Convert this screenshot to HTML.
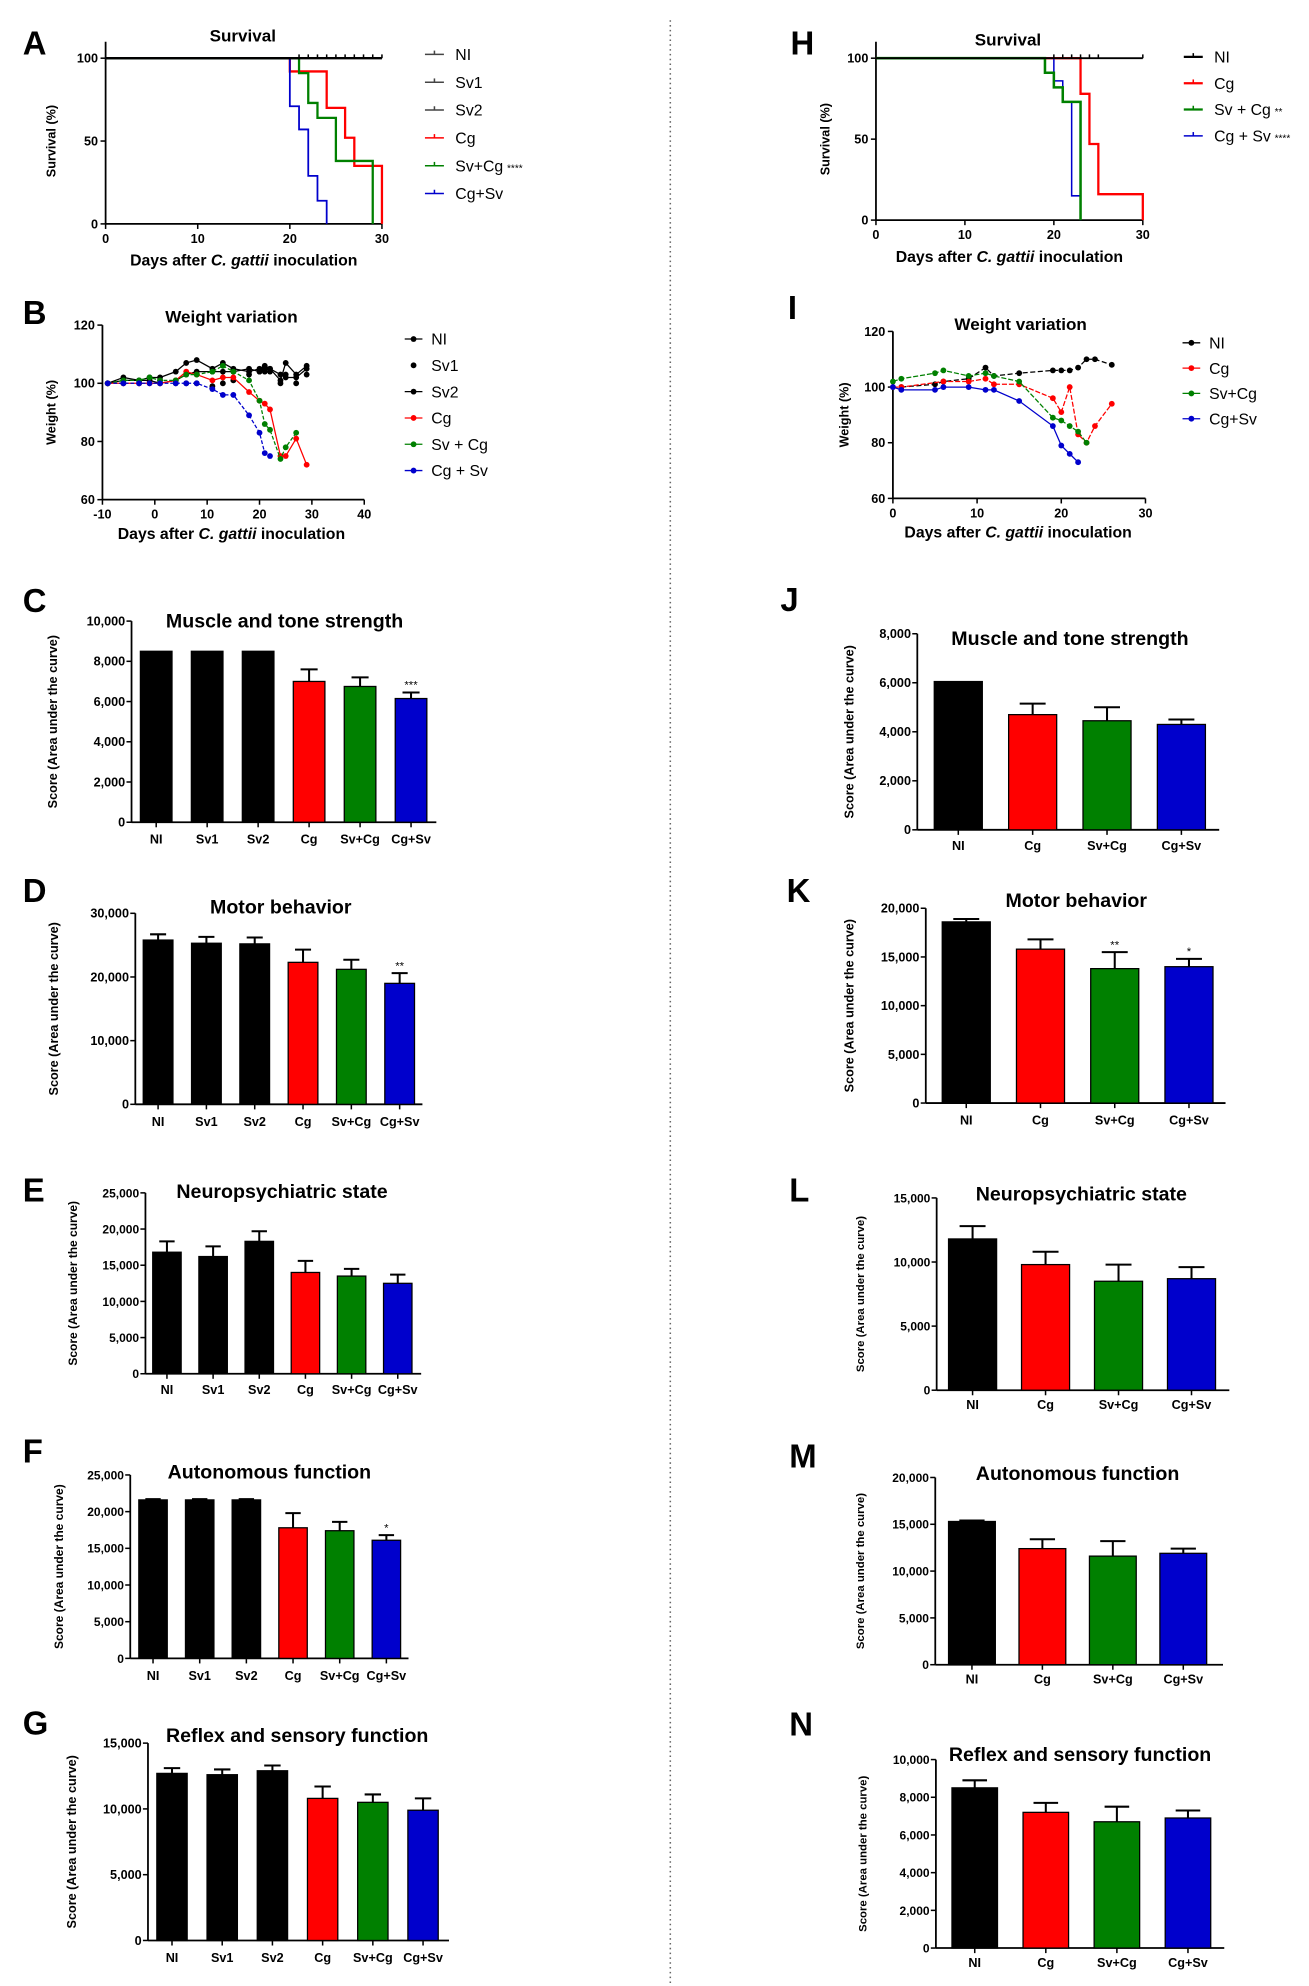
<!DOCTYPE html>
<html><head><meta charset="utf-8"><title>Figure</title>
<style>
html,body{margin:0;padding:0;background:#fff;}
svg{display:block;font-family:"Liberation Sans",Arial,sans-serif;}
</style></head>
<body>
<svg id="fig" width="1309" height="1986" viewBox="0 0 1035 1570" preserveAspectRatio="none" xmlns="http://www.w3.org/2000/svg">
<rect x="0" y="0" width="1035" height="1570" fill="#fff"/>
<line x1="530" y1="16" x2="530" y2="1570" stroke="#666" stroke-width="1.2" stroke-dasharray="1.2,2.6"/>
</svg>
<script>
// ---------- DATA ----------
const catsLeft = ['NI','Sv1','Sv2','Cg','Sv+Cg','Cg+Sv'];
const catsRight = ['NI','Cg','Sv+Cg','Cg+Sv'];
const colorsLeft = ['#000','#000','#000','#ff0000','#008000','#0000cc'];
const colorsRight = ['#000','#ff0000','#008000','#0000cc'];

// Survival A (step curves: day where value starts, survival %)
const aNIdays = [0,30];           const aNIsurv = [100,100];
const aNIcensor = [21,22,23,24,25,26,27,28,29,30];
const aCgDays = [0,20,24,26,27,30]; const aCgSurv = [100,92,70,52,35,0];
const aSvCgDays = [0,21,22,23,25,29]; const aSvCgSurv = [100,91,73,64,38,0];
const aCgSvDays = [0,20,21,22,23,24]; const aCgSvSurv = [100,71,57,29,14,0];
const aXTicks = [0,10,20,30]; const aYTicks = [0,50,100];

// Survival H
const hNIdays = [0,30]; const hNIsurv = [100,100];
const hNIcensor = [20,21,22,23,24,25,30];
const hCgDays = [0,23,24,25,30]; const hCgSurv = [100,78,47,16,0];
const hSvCgDays = [0,19,20,21,23]; const hSvCgSurv = [100,91,82,73,0];
const hCgSvDays = [0,20,21,22,23]; const hCgSvSurv = [100,86,73,15,0];

// Weight B
const bDays = [-9,-6,-3,-1,1,4,6,8,11,13,15,18,20,21,22,24,25,27,29];
const bNI   = [100,102,101,102,102,104,107,108,105,107,105,104,105,106,105,101,107,103,106];
const bSv1  = [100,100,100,101,101,100,100,100,99,100,101,103,104,104,104,100,103,100,103];
const bSv2  = [100,101,101,101,100,101,103,104,104,104,104,105,104,105,105,103,102,102,105];
const bCg   = [100,100,100,100,100,101,104,103,101,102,102,97,94,93,91,75,75,81,72];
const bSvCgDays = [-9,-6,-3,-1,1,4,6,8,11,13,15,18,20,21,22,24,25,27];
const bSvCg = [100,101,101,102,101,101,103,103,104,106,104,101,94,86,84,74,78,83];
const bCgSvDays = [-9,-6,-3,-1,1,4,6,8,11,13,15,18,20,21,22];
const bCgSv = [100,100,100,100,100,100,100,100,98,96,96,89,83,76,75];
const bXTicks = [-10,0,10,20,30,40]; const bYTicks = [60,80,100,120];

// Weight I
const iNIdays = [1,5,6,9,11,12,15,19,20,21,22,23,24,26];
const iNI     = [100,101,102,103,107,104,105,106,106,106,107,110,110,108];
const iCgDays = [0,1,6,9,11,12,15,19,20,21,22,23,24,26];
const iCg     = [100,100,102,102,103,101,101,96,91,100,83,80,86,94];
const iSvCgDays = [0,1,5,6,9,11,12,15,19,20,21,22,23];
const iSvCg   = [102,103,105,106,104,105,104,102,89,88,86,84,80];
const iCgSvDays = [0,1,5,6,9,11,12,15,19,20,21,22];
const iCgSv   = [100,99,99,100,100,99,99,95,86,79,76,73];
const iXTicks = [0,10,20,30];

// Bar panels
const cValues = [8500,8500,8500,7000,6750,6150]; const cErrors = [0,0,0,600,450,300]; const cStars = ['','','','','','***'];
const dValues = [25800,25300,25200,22300,21200,19000]; const dErrors = [900,1000,1000,2000,1500,1600]; const dStars = ['','','','','','**'];
const eValues = [16800,16200,18300,14000,13500,12500]; const eErrors = [1500,1400,1400,1600,1000,1200]; const eStars = ['','','','','',''];
const fValues = [21600,21600,21600,17800,17400,16100]; const fErrors = [100,100,100,2000,1200,700]; const fStars = ['','','','','','*'];
const gValues = [12700,12600,12900,10800,10500,9900]; const gErrors = [400,400,400,900,600,900]; const gStars = ['','','','','',''];
const jValues = [6050,4700,4450,4300]; const jErrors = [0,450,550,200]; const jStars = ['','','',''];
const kValues = [18600,15800,13800,14000]; const kErrors = [300,1000,1700,800]; const kStars = ['','','**','*'];
const lValues = [11800,9800,8500,8700]; const lErrors = [1000,1000,1300,900]; const lStars = ['','','',''];
const mValues = [15300,12400,11600,11900]; const mErrors = [100,1000,1600,500]; const mStars = ['','','',''];
const nValues = [8500,7200,6700,6900]; const nErrors = [400,500,800,400]; const nStars = ['','','',''];
const cTicks = [0,2000,4000,6000,8000,10000];
const dTicks = [0,10000,20000,30000];
const eTicks = [0,5000,10000,15000,20000,25000];
const gTicks = [0,5000,10000,15000];
const jTicks = [0,2000,4000,6000,8000];
const kTicks = [0,5000,10000,15000,20000];
const lTicks = [0,5000,10000,15000];
const nTicks = [0,2000,4000,6000,8000,10000];

// ---------- HELPERS ----------
const NS = 'http://www.w3.org/2000/svg';
const svg = document.getElementById('fig');
function mk(tag, attrs, parent){
  const e = document.createElementNS(NS, tag);
  for (const k in attrs) e.setAttribute(k, attrs[k]);
  (parent || svg).appendChild(e);
  return e;
}
function txt(parent, x, y, s, size, weight, anchor, extra){
  const t = mk('text', Object.assign({x:x, y:y, 'font-size':size, 'font-weight':weight||'normal', 'text-anchor':anchor||'start', fill:'#000'}, extra||{}), parent);
  t.textContent = s;
  return t;
}
function fmt(v){ return v.toLocaleString('en-US'); }
function letter(ch, x, y){
  const t = txt(svg, x, y, ch, 26, 'bold', 'start');
  
  
}

// ---------- BAR CHART ----------
function barChart(p){
  const g = mk('g', {});
  
  
  const ys = v => p.y0 - v / p.max * (p.y0 - p.yTop);
  const xc = i => p.c0 + i * p.pitch;
  const ya = mk('line', {x1:p.ax, y1:p.yTop, x2:p.ax, y2:p.y0, stroke:'#000', 'stroke-width':1.4}, g);
  
  
  const xa = mk('line', {x1:p.ax, y1:p.y0, x2:p.axEnd, y2:p.y0, stroke:'#000', 'stroke-width':1.4}, g);
  
  
  p.ticks.forEach(t => {
    mk('line', {x1:p.ax-4, y1:ys(t), x2:p.ax, y2:ys(t), stroke:'#000', 'stroke-width':1.2}, g);
    const tl = txt(g, p.ax-5, ys(t)+3.5, fmt(t), p.tickSize||10, 'bold', 'end');
    
    
  });
  p.values.forEach((v, i) => {
    const cx = xc(i);
    const r = mk('rect', {x:cx-p.w/2, y:ys(v), width:p.w, height:p.y0-ys(v), fill:p.colors[i], stroke:'#000', 'stroke-width':1}, g);
    
    
    if (p.errors[i] > 0){
      const e = mk('path', {d:'M'+cx+' '+ys(v)+'V'+ys(v+p.errors[i])+'M'+(cx-p.w*0.27)+' '+ys(v+p.errors[i])+'H'+(cx+p.w*0.27), stroke:'#000', 'stroke-width':1.6, fill:'none'}, g);
      
      
    }
    if (p.stars[i]){
      const s = txt(g, cx, ys(v+p.errors[i])-3, p.stars[i], 9, 'normal', 'middle');
      
      
    }
    mk('line', {x1:cx, y1:p.y0, x2:cx, y2:p.y0+4, stroke:'#000', 'stroke-width':1.2}, g);
    const cl = txt(g, cx, p.labY, p.cats[i], 10, 'bold', 'middle');
    
    
  });
  const ti = txt(g, p.tx, p.ty, p.title, p.titleSize||15.5, 'bold', 'middle');
  
  
  const cy = (p.yTop + p.y0) / 2;
  const yt = txt(g, 0, 0, 'Score (Area under the curve)', p.ytSize||10, 'bold', 'middle', {transform:'translate('+p.ytx+','+cy+') rotate(-90)'});
  
  
}

// ---------- SURVIVAL ----------
function survival(p){
  const g = mk('g', {});
  
  
  const xs = d => p.x0 + d / 30 * (p.x1 - p.x0);
  const ys = s => p.y0 - s / 100 * (p.y0 - p.y100);
  const ya = mk('line', {x1:p.x0, y1:p.y100-13, x2:p.x0, y2:p.y0, stroke:'#000', 'stroke-width':1.4}, g);
  
  
  const xa = mk('line', {x1:p.x0, y1:p.y0, x2:p.x1, y2:p.y0, stroke:'#000', 'stroke-width':1.4}, g);
  
  
  aXTicks.forEach(t => {
    mk('line', {x1:xs(t), y1:p.y0, x2:xs(t), y2:p.y0+4, stroke:'#000', 'stroke-width':1.2}, g);
    const l = txt(g, xs(t), p.y0+15, String(t), 10, 'bold', 'middle');
    
    
  });
  aYTicks.forEach(t => {
    mk('line', {x1:p.x0-4, y1:ys(t), x2:p.x0, y2:ys(t), stroke:'#000', 'stroke-width':1.2}, g);
    const l = txt(g, p.x0-6, ys(t)+3.5, String(t), 10, 'bold', 'end');
    
    
  });
  p.series.forEach(s => {
    let d = 'M' + xs(s.days[0]) + ' ' + ys(s.surv[0]);
    for (let i = 1; i < s.days.length; i++) d += 'H' + xs(s.days[i]) + 'V' + ys(s.surv[i]);
    const path = mk('path', {d:d, stroke:s.color, 'stroke-width':s.w||1.6, fill:'none'}, g);
    
    
  });
  p.censor.forEach(c => {
    mk('line', {x1:xs(c), y1:ys(100)-3, x2:xs(c), y2:ys(100), stroke:'#000', 'stroke-width':1.2}, g);
  });
  const ti = txt(g, p.tx, p.ty, 'Survival', 13.5, 'bold', 'middle');
  
  
  const xt = mk('text', {x:(p.x0+p.x1)/2, y:p.y0+33, 'font-size':12.5, 'font-weight':'bold', 'text-anchor':'middle'}, g);
  xt.innerHTML = 'Days after <tspan font-style="italic">C. gattii</tspan> inoculation';
  
  
  const yt = txt(g, 0, 0, 'Survival (%)', 10, 'bold', 'middle', {transform:'translate('+p.ytx+','+((p.y0+p.y100)/2)+') rotate(-90)'});
  
  
  p.legend.forEach((L, i) => {
    const y = p.ly + i * p.lstep;
    const lg = mk('g', {}, g);
    
    
    mk('line', {x1:p.lx, y1:y, x2:p.lx+15, y2:y, stroke:L.color, 'stroke-width':L.w||1.2}, lg);
    mk('line', {x1:p.lx+7.5, y1:y-3, x2:p.lx+7.5, y2:y, stroke:L.color, 'stroke-width':1.2}, lg);
    const t = txt(lg, p.lx+24, y+4.5, L.label, 12.5, 'normal', 'start');
    if (L.stars){ const ts = mk('tspan', {'font-size':8, dx:3}, t); ts.textContent = L.stars; }
  });
}

// ---------- WEIGHT ----------
function weight(p){
  const g = mk('g', {});
  
  
  const xs = d => p.x0 + (d - p.dmin) / (p.dmax - p.dmin) * (p.x1 - p.x0);
  const ys = w => p.y60 - (w - 60) / 60 * (p.y60 - p.y120);
  const ya = mk('line', {x1:p.x0, y1:p.y120, x2:p.x0, y2:p.y60, stroke:'#000', 'stroke-width':1.4}, g);
  
  
  const xa = mk('line', {x1:p.x0, y1:p.y60, x2:p.x1, y2:p.y60, stroke:'#000', 'stroke-width':1.4}, g);
  
  
  p.xticks.forEach(t => {
    mk('line', {x1:xs(t), y1:p.y60, x2:xs(t), y2:p.y60+4, stroke:'#000', 'stroke-width':1.2}, g);
    const l = txt(g, xs(t), p.y60+15, String(t), 10, 'bold', 'middle');
    
    
  });
  bYTicks.forEach(t => {
    mk('line', {x1:p.x0-4, y1:ys(t), x2:p.x0, y2:ys(t), stroke:'#000', 'stroke-width':1.2}, g);
    const l = txt(g, p.x0-6, ys(t)+3.5, String(t), 10, 'bold', 'end');
    
    
  });
  p.series.forEach(s => {
    const sg = mk('g', {}, g);
    
    
    if (s.line){
      const pts = s.days.map((d, i) => xs(d) + ',' + ys(s.vals[i])).join(' ');
      mk('polyline', {points:pts, stroke:s.color, 'stroke-width':1, fill:'none', 'stroke-dasharray':s.dash||'none'}, sg);
    }
    s.days.forEach((d, i) => {
      const c = mk('circle', {cx:xs(d), cy:ys(s.vals[i]), r:2.3, fill:s.color}, sg);
      
      
    });
  });
  const ti = txt(g, p.tx, p.ty, 'Weight variation', 13.5, 'bold', 'middle');
  
  
  const xt = mk('text', {x:p.xtx, y:p.y60+31, 'font-size':12.5, 'font-weight':'bold', 'text-anchor':'middle'}, g);
  xt.innerHTML = 'Days after <tspan font-style="italic">C. gattii</tspan> inoculation';
  
  
  const yt = txt(g, 0, 0, 'Weight (%)', 10, 'bold', 'middle', {transform:'translate('+p.ytx+','+((p.y60+p.y120)/2)+') rotate(-90)'});
  
  
  p.legend.forEach((L, i) => {
    const y = p.ly + i * p.lstep;
    const lg = mk('g', {}, g);
    
    
    if (!L.noline) mk('line', {x1:p.lx-7, y1:y, x2:p.lx+7, y2:y, stroke:L.color, 'stroke-width':1}, lg);
    mk('circle', {cx:p.lx, cy:y, r:2.3, fill:L.color}, lg);
    txt(lg, p.lx+14, y+4.5, L.label, 12.5, 'normal', 'start');
  });
}

// ---------- BUILD ----------
letter('A', 18, 43);
survival({name:'survival-chart-a', x0:83.5, x1:302, y0:177, y100:46, tx:192, ty:33, ytx:44,
  series:[{key:'cg', days:aCgDays, surv:aCgSurv, color:'#ff0000', w:1.8},
          {key:'sv-cg', days:aSvCgDays, surv:aSvCgSurv, color:'#008000', w:1.8},
          {key:'cg-sv', days:aCgSvDays, surv:aCgSvSurv, color:'#0000cc', w:1.4},
          {key:'ni', days:aNIdays, surv:aNIsurv, color:'#000', w:1.8}],
  censor:aNIcensor, lx:336, ly:43, lstep:22,
  legend:[{label:'NI',color:'#444'},{label:'Sv1',color:'#444'},{label:'Sv2',color:'#444'},{label:'Cg',color:'#ff0000'},{label:'Sv+Cg',color:'#008000',stars:'****'},{label:'Cg+Sv',color:'#0000cc'}]});

letter('B', 18, 256);
weight({name:'weight-chart-b', x0:81, x1:288, dmin:-10, dmax:40, y60:395, y120:257, tx:183, ty:255, xtx:183, ytx:44, xticks:bXTicks,
  series:[{key:'ni', days:bDays, vals:bNI, color:'#000', line:true},
          {key:'sv1', days:bDays, vals:bSv1, color:'#000', line:false},
          {key:'sv2', days:bDays, vals:bSv2, color:'#000', line:true},
          {key:'cg', days:bDays, vals:bCg, color:'#ff0000', line:true},
          {key:'sv-cg', days:bSvCgDays, vals:bSvCg, color:'#008000', line:true, dash:'3,1.5'},
          {key:'cg-sv', days:bCgSvDays, vals:bCgSv, color:'#0000cc', line:true, dash:'3,1.5'}],
  lx:327, ly:268, lstep:20.8,
  legend:[{label:'NI',color:'#000'},{label:'Sv1',color:'#000',noline:true},{label:'Sv2',color:'#000'},{label:'Cg',color:'#ff0000'},{label:'Sv + Cg',color:'#008000'},{label:'Cg + Sv',color:'#0000cc'}]});

letter('C', 18, 484);
barChart({name:'bar-chart-c', cats:catsLeft, colors:colorsLeft, values:cValues, errors:cErrors, stars:cStars, ticks:cTicks,
  ax:104, axEnd:345, yTop:491, y0:650, max:10000, c0:123.5, pitch:40.3, w:25, labY:667,
  title:'Muscle and tone strength', tx:225, ty:496, ytx:45});
letter('D', 18, 713);
barChart({name:'bar-chart-d', cats:catsLeft, colors:colorsLeft, values:dValues, errors:dErrors, stars:dStars, ticks:dTicks,
  ax:107, axEnd:334, yTop:722, y0:873, max:30000, c0:125, pitch:38.2, w:23.5, labY:890,
  title:'Motor behavior', tx:222, ty:722, ytx:46});
letter('E', 18, 950);
barChart({name:'bar-chart-e', cats:catsLeft, colors:colorsLeft, values:eValues, errors:eErrors, stars:eStars, ticks:eTicks,
  ax:115, axEnd:333, yTop:943, y0:1086, max:25000, c0:132, pitch:36.5, w:22.5, labY:1102, tickSize:9.5,
  title:'Neuropsychiatric state', tx:223, ty:947, ytx:61, ytSize:9.5});
letter('F', 18, 1156);
barChart({name:'bar-chart-f', cats:catsLeft, colors:colorsLeft, values:fValues, errors:fErrors, stars:fStars, ticks:eTicks,
  ax:103, axEnd:323, yTop:1166, y0:1311, max:25000, c0:121, pitch:36.9, w:22.5, labY:1328, tickSize:9.5,
  title:'Autonomous function', tx:213, ty:1169, ytx:50, ytSize:9.5});
letter('G', 18, 1371);
barChart({name:'bar-chart-g', cats:catsLeft, colors:colorsLeft, values:gValues, errors:gErrors, stars:gStars, ticks:gTicks,
  ax:117, axEnd:355, yTop:1378, y0:1534, max:15000, c0:136, pitch:39.7, w:24, labY:1551,
  title:'Reflex and sensory function', tx:235, ty:1377, ytx:60});

letter('H', 625, 43);
survival({name:'survival-chart-h', x0:692.6, x1:903.6, y0:174, y100:46, tx:797, ty:36, ytx:656,
  series:[{key:'cg', days:hCgDays, surv:hCgSurv, color:'#ff0000', w:1.8},
          {key:'cg-sv', days:hCgSvDays, surv:hCgSvSurv, color:'#0000cc', w:1.2},
          {key:'sv-cg', days:hSvCgDays, surv:hSvCgSurv, color:'#008000', w:2},
          {key:'ni', days:hNIdays, surv:hNIsurv, color:'#000', w:1.4}],
  censor:hNIcensor, lx:936, ly:45, lstep:20.8,
  legend:[{label:'NI',color:'#000',w:1.8},{label:'Cg',color:'#ff0000',w:1.8},{label:'Sv + Cg',color:'#008000',w:1.8,stars:'**'},{label:'Cg + Sv',color:'#0000cc',stars:'****'}]});

letter('I', 623, 252);
weight({name:'weight-chart-i', x0:706, x1:905.7, dmin:0, dmax:30, y60:394, y120:262, tx:807, ty:261, xtx:805, ytx:671, xticks:iXTicks,
  series:[{key:'ni', days:iNIdays, vals:iNI, color:'#000', line:true, dash:'4,2'},
          {key:'cg', days:iCgDays, vals:iCg, color:'#ff0000', line:true, dash:'4,1.5'},
          {key:'sv-cg', days:iSvCgDays, vals:iSvCg, color:'#008000', line:true, dash:'4,1.5'},
          {key:'cg-sv', days:iCgSvDays, vals:iCgSv, color:'#0000cc', line:true}],
  lx:942, ly:271, lstep:20,
  legend:[{label:'NI',color:'#000'},{label:'Cg',color:'#ff0000'},{label:'Sv+Cg',color:'#008000'},{label:'Cg+Sv',color:'#0000cc'}]});

letter('J', 617, 483);
barChart({name:'bar-chart-j', cats:catsRight, colors:colorsRight, values:jValues, errors:jErrors, stars:jStars, ticks:jTicks,
  ax:725.3, axEnd:964, yTop:501, y0:656, max:8000, c0:757.7, pitch:58.8, w:38, labY:672,
  title:'Muscle and tone strength', tx:846, ty:510, ytx:675});
letter('K', 622, 713);
barChart({name:'bar-chart-k', cats:catsRight, colors:colorsRight, values:kValues, errors:kErrors, stars:kStars, ticks:kTicks,
  ax:732, axEnd:969, yTop:718, y0:872, max:20000, c0:764, pitch:58.7, w:38, labY:889,
  title:'Motor behavior', tx:851, ty:717, ytx:675});
letter('L', 624, 950);
barChart({name:'bar-chart-l', cats:catsRight, colors:colorsRight, values:lValues, errors:lErrors, stars:lStars, ticks:lTicks,
  ax:740.6, axEnd:972, yTop:947, y0:1099, max:15000, c0:769, pitch:57.7, w:38, labY:1114, tickSize:9.5,
  title:'Neuropsychiatric state', tx:855, ty:949, ytx:683, ytSize:9});
letter('M', 624, 1160);
barChart({name:'bar-chart-m', cats:catsRight, colors:colorsRight, values:mValues, errors:mErrors, stars:mStars, ticks:kTicks,
  ax:739.5, axEnd:967, yTop:1168, y0:1316, max:20000, c0:768.5, pitch:55.7, w:37, labY:1331, tickSize:9.5,
  title:'Autonomous function', tx:852, ty:1170, ytx:683, ytSize:9});
letter('N', 624, 1372);
barChart({name:'bar-chart-n', cats:catsRight, colors:colorsRight, values:nValues, errors:nErrors, stars:nStars, ticks:nTicks,
  ax:740, axEnd:968, yTop:1391, y0:1540, max:10000, c0:770.7, pitch:56.2, w:36, labY:1555, tickSize:9.5,
  title:'Reflex and sensory function', tx:854, ty:1392, ytx:685, ytSize:9});
</script>
</body></html>
